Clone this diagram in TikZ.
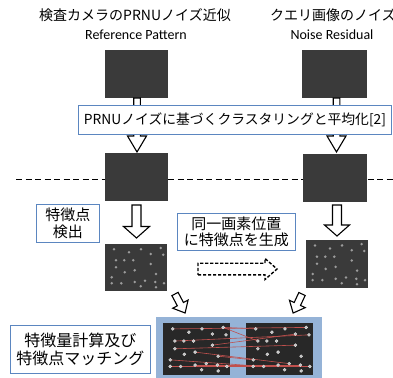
\documentclass[tikz,border=0pt]{standalone}
\usepackage{fontspec}
\setmainfont{Noto Sans CJK JP}
\newfontfamily\latinf{Carlito}
\definecolor{boxdark}{HTML}{3A3A3A}
\definecolor{imgdark}{HTML}{282828}
\definecolor{bluebd}{HTML}{5B86C0}
\definecolor{panelblue}{HTML}{95B3D7}
\definecolor{matchred}{HTML}{C0504D}
\definecolor{dotgray}{HTML}{9C9C9C}
\newcommand\dotlist{0.145/0.113, 0.387/0.177, 0.581/0.113, 0.898/0.085, 0.737/0.213, 0.940/0.228, 0.177/0.347, 0.311/0.347, 0.456/0.347, 0.737/0.426, 0.177/0.496, 0.318/0.602, 0.479/0.560, 0.823/0.638, 0.108/0.709, 0.108/0.836, 0.263/0.836, 0.479/0.809, 0.645/0.781, 0.811/0.809, 0.952/0.836, 0.576/0.900, 0.823/0.921}
\newcommand\blockarrow[7]{%
  \begin{scope}[shift={#1},rotate=#2]
    \draw[blockarr,#7] (0,#4) -- ({#3-#6},#4) -- ({#3-#6},#5) -- (#3,0) -- ({#3-#6},-#5) -- ({#3-#6},-#4) -- (0,-#4) -- cycle;
  \end{scope}}
\tikzset{
  darkbox/.style={rectangle, fill=boxdark, draw=none, inner sep=0pt, anchor=north west},
  imgbox/.style={rectangle, fill=imgdark, draw=none, inner sep=0pt, anchor=north west},
  bluebox/.style={rectangle, draw=bluebd, line width=0.9pt, fill=white, inner sep=0pt, anchor=north west, align=center},
  txt/.style={inner sep=0pt},
  blockarr/.style={draw=black, fill=white, line width=1.1pt, line join=miter},
  smalldot/.style={fill=dotgray},
  bigdot/.style={fill=gray!55, draw=gray!20, line width=0.4pt},
  matchline/.style={draw=matchred, line width=0.6pt}
}
\begin{document}
\begin{tikzpicture}[x=1pt,y=-1pt]
\useasboundingbox (0,0) rectangle (393,377);
% titles
\node[txt, font=\fontsize{14}{16}\selectfont] (t1) at (135,15) {検査カメラのPRNUノイズ近似};
\node[txt, font=\latinf\fontsize{14}{16}\selectfont] (t2) at (136,35) {Reference Pattern};
\node[txt, anchor=west, font=\fontsize{14}{16}\selectfont] (t3) at (270,15) {クエリ画像のノイズ};
\node[txt, font=\latinf\fontsize{14}{16}\selectfont] (t4) at (332,35) {Noise Residual};
% dashed separator
\coordinate (sepL) at (16,179);
\coordinate (sepR) at (393,179);
\draw[dash pattern=on 6pt off 3.5pt, line width=0.8pt] (sepL) -- (sepR);
% top images
\node[darkbox, minimum width=63pt, minimum height=48pt] (ref1) at (105,50) {};
\node[darkbox, minimum width=65pt, minimum height=48pt] (qry1) at (302,50) {};
% arrows through the clustering box
\blockarrow{(137,98)}{-90}{54}{3.3}{9.5}{16}{}
\blockarrow{(336.5,98)}{-90}{54}{3.3}{9.5}{16}{}
\node[bluebox, minimum width=313pt, minimum height=29pt, font=\fontsize{13.8}{16}\selectfont] (clus) at (78,105) {PRNUノイズに基づくクラスタリングと平均化[2]};
% middle images
\node[darkbox, minimum width=63pt, minimum height=48pt] (ref2) at (105,153) {};
\node[darkbox, minimum width=64pt, minimum height=48pt] (qry2) at (303,154) {};
% detection
\node[bluebox, minimum width=63pt, minimum height=38pt, font=\fontsize{15}{17}\selectfont] (det) at (36,204) {特徴点\\検出};
\blockarrow{(136.5,205)}{-90}{33}{4.5}{13}{11.5}{}
\blockarrow{(337,205)}{-90}{31}{4.5}{12.5}{11}{}
\node[bluebox, minimum width=118pt, minimum height=37pt, font=\fontsize{15}{16.5}\selectfont] (gen) at (177,213) {同一画素位置\\に特徴点を生成};
% keypoint images
\node[imgbox, fill=boxdark, minimum width=62pt, minimum height=47pt] (ref3) at (105,244) {};
\node[imgbox, fill=boxdark, minimum width=62pt, minimum height=48pt] (qry3) at (306,240) {};
\begin{scope}[shift={(ref3.north west)}, x=62pt, y=-47pt]
  \foreach \px/\py in \dotlist { \fill[smalldot] (\px,\py) circle (1.4pt); }
\end{scope}
\begin{scope}[shift={(qry3.north west)}, x=62pt, y=-48pt]
  \foreach \px/\py in \dotlist { \fill[smalldot] (\px,\py) circle (1.4pt); }
\end{scope}
\blockarrow{(198,269)}{0}{79}{5.8}{10.5}{12}{line width=1.4pt, dash pattern=on 3.2pt off 1.8pt}
% diagonal arrows
\blockarrow{(175,294)}{-62}{21.5}{3.5}{8.7}{10}{}
\blockarrow{(302,294)}{-115}{21}{3.5}{8.7}{10}{}
% matching panel
\node[rectangle, fill=panelblue, draw=none, inner sep=0pt, anchor=north west, minimum width=166pt, minimum height=62pt] (panel) at (156,317) {};
\node[imgbox, minimum width=67pt, minimum height=52pt] (mL) at (163,323) {};
\node[imgbox, minimum width=67pt, minimum height=52pt] (mR) at (246,323) {};
\begin{scope}[shift={(mL.north west)}, x=67pt, y=-52pt]
  \foreach \px/\py [count=\k] in \dotlist { \coordinate (L\k) at (\px,\py); }
\end{scope}
\begin{scope}[shift={(mR.north west)}, x=67pt, y=-52pt]
  \foreach \px/\py [count=\k] in \dotlist { \coordinate (R\k) at (\px,\py); }
\end{scope}
\foreach \a/\b in {1/4, 4/1, 4/7, 7/6, 11/10, 10/5, 13/19, 14/15, 16/21, 18/20, 20/16, 15/17}
  { \draw[matchline] (L\a) -- (R\b); }
\foreach \k in {1,...,23} { \filldraw[bigdot] (L\k) circle (1.5pt); \filldraw[bigdot] (R\k) circle (1.5pt); }
\node[bluebox, minimum width=140pt, minimum height=48pt, font=\fontsize{16}{17.5}\selectfont] (match) at (10,325) {特徴量計算及び\\特徴点マッチング};
\end{tikzpicture}
\end{document}
